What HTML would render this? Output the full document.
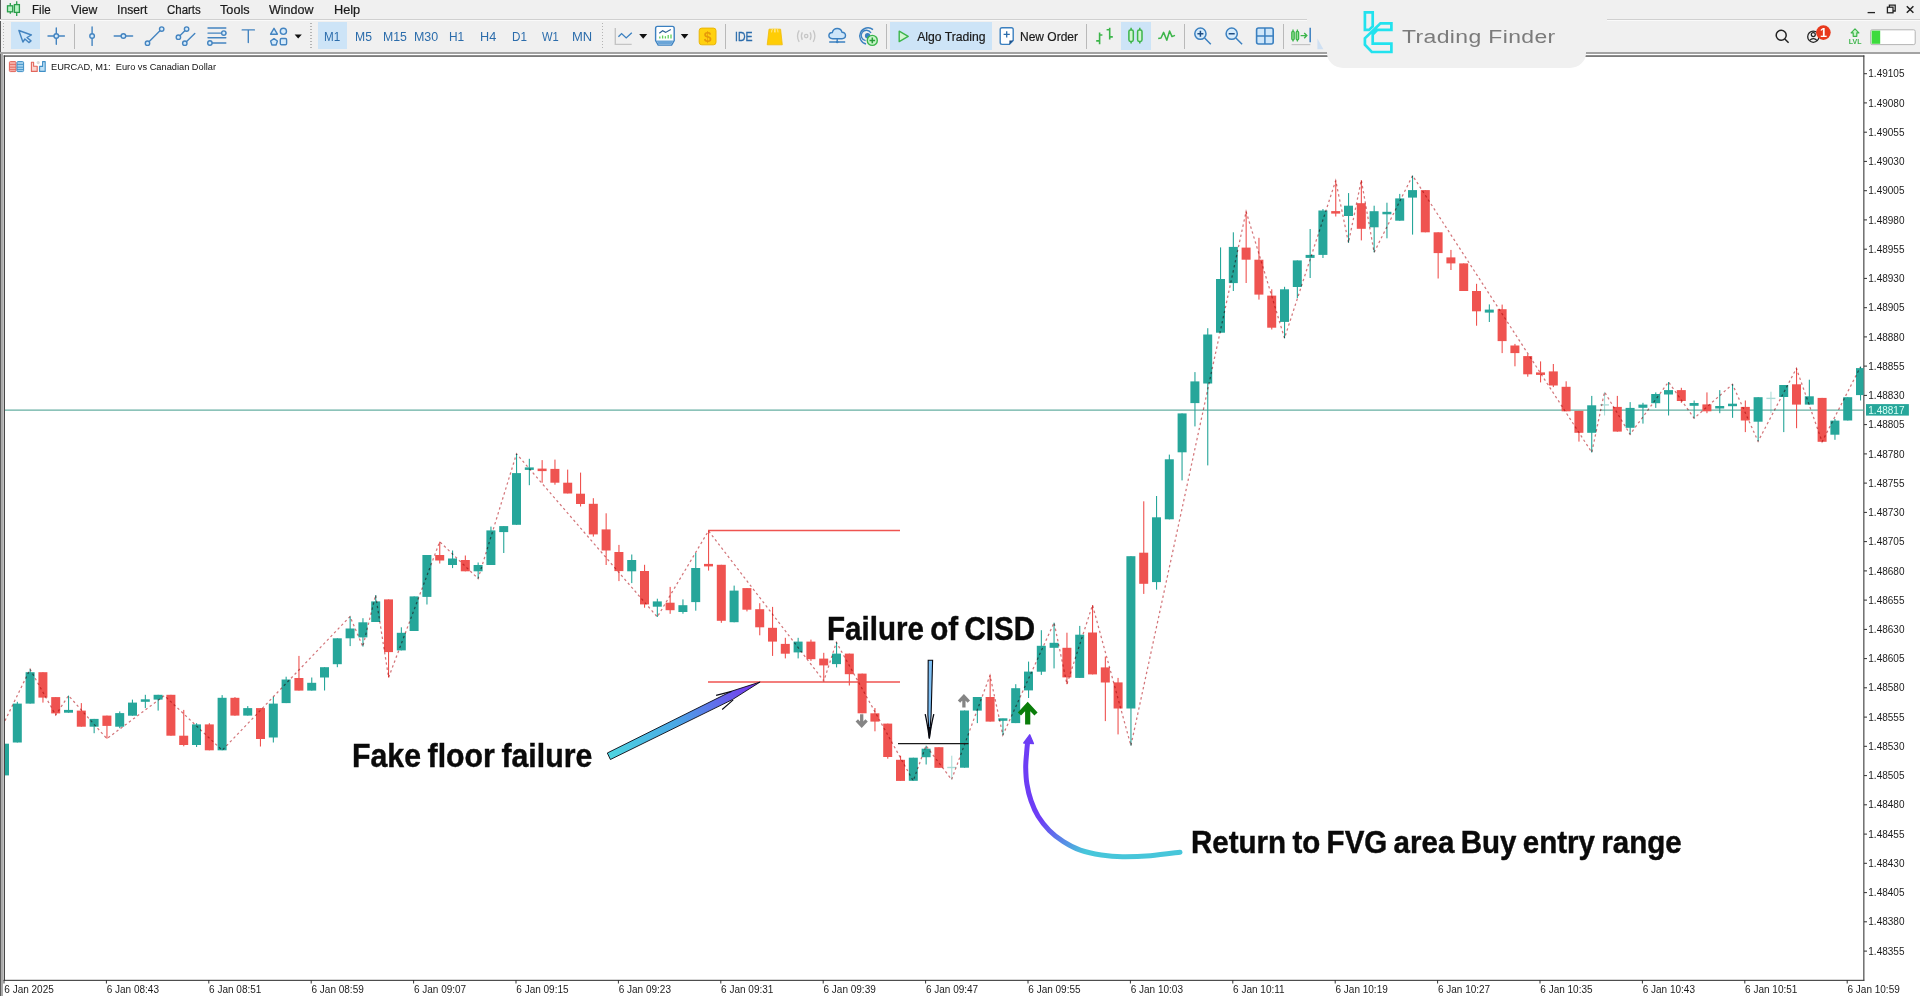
<!DOCTYPE html>
<html><head><meta charset="utf-8"><title>EURCAD M1</title>
<style>
*{box-sizing:border-box;margin:0;padding:0}
html,body{width:1920px;height:996px;overflow:hidden;background:#f0f0f0;font-family:"Liberation Sans",sans-serif;}
#root{position:relative;width:1920px;height:996px;overflow:hidden;background:#f0f0f0}
.abs{position:absolute}
.menu{-webkit-text-stroke:0.2px #1a1a1a;position:absolute;top:2px;height:16px;line-height:16px;font-size:12.2px;color:#1a1a1a;white-space:nowrap}
.tf{position:absolute;top:29px;height:16px;line-height:16px;font-size:12px;color:#2b6cab;white-space:nowrap;text-align:center}
.sep{position:absolute;top:24px;width:1px;height:25px;background:#b9b9b9}
.grip{position:absolute;top:23px;height:27px;background-image:linear-gradient(#b4b4b4 50%,transparent 50%);background-size:2px 3px;width:1.5px}
.sel{position:absolute;background:#cde4f7}
.ax{position:absolute;font-size:10px;color:#222;white-space:nowrap;line-height:12px;letter-spacing:0}
.ann{position:absolute;font-weight:bold;color:#0a0a0a;-webkit-text-stroke:0.45px #0a0a0a;white-space:nowrap;transform-origin:0 0;line-height:1}
</style></head><body><div id="root">
<!-- chart area -->
<div class="abs" style="left:0;top:54px;width:1920px;height:942px;background:#fff"></div>
<div class="abs" style="left:0;top:0;width:1px;height:996px;background:#5a5a5a"></div>
<div class="abs" style="left:1px;top:54px;width:1.9px;height:942px;background:#ababab"></div>
<div class="abs" style="left:0;top:52.4px;width:1920px;height:1.4px;background:#a3a3a3"></div>
<div class="abs" style="left:0;top:19px;width:1920px;height:1px;background:#d0d0d0"></div>
<div class="abs" style="left:0;top:20px;width:1920px;height:1px;background:#fafafa"></div>
<!-- selected backgrounds -->
<div class="sel" style="left:10.8px;top:22.2px;width:29px;height:27.2px"></div>
<div class="sel" style="left:317.5px;top:22.2px;width:29.8px;height:27.2px"></div>
<div class="sel" style="left:889.6px;top:22.2px;width:102px;height:27.4px"></div>
<div class="sel" style="left:1121.4px;top:22.2px;width:29.6px;height:27.4px"></div>
<!-- menu -->
<div class="menu" id="m1" style="left:31.9px;transform:scaleX(0.952);transform-origin:0 50%">File</div>
<div class="menu" id="m2" style="left:71.1px;transform:scaleX(1.000);transform-origin:0 50%">View</div>
<div class="menu" id="m3" style="left:116.9px;transform:scaleX(0.997);transform-origin:0 50%">Insert</div>
<div class="menu" id="m4" style="left:166.9px;transform:scaleX(0.939);transform-origin:0 50%">Charts</div>
<div class="menu" id="m5" style="left:220.2px;transform:scaleX(1.040);transform-origin:0 50%">Tools</div>
<div class="menu" id="m6" style="left:269.4px;transform:scaleX(1.026);transform-origin:0 50%">Window</div>
<div class="menu" id="m7" style="left:334.4px;transform:scaleX(1.045);transform-origin:0 50%">Help</div>
<!-- timeframes -->
<div class="tf" id="t1" style="left:324.4px;transform:scaleX(0.972);transform-origin:0 50%">M1</div>
<div class="tf" id="t2" style="left:355.4px;transform:scaleX(1.014);transform-origin:0 50%">M5</div>
<div class="tf" id="t3" style="left:382.7px;transform:scaleX(1.024);transform-origin:0 50%">M15</div>
<div class="tf" id="t4" style="left:413.7px;transform:scaleX(1.037);transform-origin:0 50%">M30</div>
<div class="tf" id="t5" style="left:449.4px;transform:scaleX(0.991);transform-origin:0 50%">H1</div>
<div class="tf" id="t6" style="left:480.4px;transform:scaleX(1.056);transform-origin:0 50%">H4</div>
<div class="tf" id="t7" style="left:511.7px;transform:scaleX(0.971);transform-origin:0 50%">D1</div>
<div class="tf" id="t8" style="left:542.1px;transform:scaleX(0.933);transform-origin:0 50%">W1</div>
<div class="tf" id="t9" style="left:572.1px;transform:scaleX(1.082);transform-origin:0 50%">MN</div>
<div class="tf" id="ide" style="left:734.6px;font-size:12.5px;-webkit-text-stroke:0.35px #2b6cab;transform:scaleX(0.84);transform-origin:0 50%">IDE</div>
<div class="menu" id="algo" style="left:917.2px;top:28.6px">Algo Trading</div>
<div class="menu" id="nord" style="left:1020.4px;top:28.6px;transform:scaleX(0.985);transform-origin:0 50%">New Order</div>
<!-- separators & grips -->
<div class="sep" style="left:73.7px"></div>
<div class="sep" style="left:724.9px"></div>
<div class="sep" style="left:885.7px"></div>
<div class="sep" style="left:1085.8px"></div>
<div class="sep" style="left:1184.2px"></div>
<div class="sep" style="left:1282.5px"></div>
<div class="grip" style="left:2.6px"></div>
<div class="grip" style="left:310px"></div>
<div class="grip" style="left:601.6px"></div>
<svg class="abs" style="left:0;top:0" width="1920" height="56" viewBox="0 0 1920 56">
<!-- app icon -->
<g stroke="#2a9d4a" stroke-width="1.3" fill="#b9f3c6"><path d="M10.3,3.1V13.8M16.7,1.2V16" fill="none"/><rect x="7.5" y="5.8" width="5.2" height="6"/><rect x="14.4" y="4.6" width="5" height="7.8"/></g>
<!-- drawing tools -->
<g stroke="#4484c0" stroke-width="1.4" fill="#d6ebfb" stroke-linejoin="round" stroke-linecap="round">
<path d="M18.9,30.5 L31.4,35 L27,37.5 L31,40.9 L28.9,42.6 L24.9,39 L22.9,42 Z" fill="#cfe6f9"/>
<path d="M48,36H64.4M56.3,28V44.2" fill="none"/><circle cx="56.3" cy="36" r="2.3"/>
<path d="M92.1,27V45.4" fill="none"/><circle cx="92.1" cy="36" r="2.3"/>
<path d="M114.2,36H132.6" fill="none"/><circle cx="123.4" cy="36" r="2.3"/>
<path d="M147.5,43.2L161.7,29.1" fill="none"/><circle cx="147.5" cy="43.2" r="2.2"/><circle cx="161.7" cy="29.1" r="2.2"/>
<path d="M178.4,37.2L186.6,29.1M184.8,43.2L194.8,33.4" fill="none"/><circle cx="178.4" cy="37.2" r="2.2"/><circle cx="186.6" cy="29.1" r="2.2"/><circle cx="184.8" cy="43.2" r="2.2"/>
<path d="M208,28H225.8M208,33.1H225.8M208,37.8H225.8M208,43H225.8" fill="none"/><circle cx="223.8" cy="33.1" r="2.2"/><circle cx="209.9" cy="43" r="2.2"/>
<path d="M242.2,29.9H254.4M248.3,29.9V42.5" fill="none"/>
<path d="M274,28.3L277.4,34.2H270.6Z"/><circle cx="283.4" cy="31.3" r="3.1"/><path d="M274,38.6L277.4,41L276.1,45H271.9L270.6,41Z"/><rect x="280.3" y="38.5" width="6.3" height="6.3" rx="1.2"/>
</g>
<path d="M294.6,34.4H301.8L298.2,38.4Z M639.2,34.1H647.2L643.2,38.7Z M680.8,34.1H688.4L684.6,38.7Z" fill="#111"/>
<!-- chart type -->
<path d="M615.3,28V44.4H631.7" fill="none" stroke="#c4c4c4" stroke-width="1.4"/>
<path d="M618.4,36.8L621.6,33.6L626.2,37.9L631.8,32.8" fill="none" stroke="#3b80c0" stroke-width="1.4"/>
<!-- template icon -->
<path d="M657.5,26.4H672.3Q674.2,26.4 674.2,28.4V40.6L671.6,45.1H658.2L655.6,40.6V28.4Q655.6,26.4 657.5,26.4Z" fill="#fff" stroke="#3b80c0" stroke-width="1.4"/>
<path d="M656.3,40.4H673.5L671.2,44.6H658.6Z" fill="#6aa5d8"/>
<path d="M659.3,33.2L662.6,30.8L665.6,32.4L670.8,29.4" fill="none" stroke="#2b5f94" stroke-width="1.2"/>
<path d="M659.8,36.6V38.4M662.6,35.6V38.4M665.4,36.2V38.4M668.2,35V38.4M671,34.6V38.4" stroke="#5fcf5a" stroke-width="1.3"/>
<!-- dollar -->
<rect x="699.2" y="28.1" width="16.8" height="16.7" rx="2.6" fill="#ffd10f" stroke="#eab508" stroke-width="1"/>
<text x="707.6" y="41.6" font-family="Liberation Sans, sans-serif" font-size="14" font-weight="bold" fill="#e6990a" text-anchor="middle">$</text>
<!-- bag -->
<path d="M769,29.2H780.6L782.3,44.8H767.2Z" fill="#ffcd05" stroke="#f0bb0a" stroke-width="0.8" stroke-linejoin="round"/>
<path d="M771.6,32.4Q771.4,28.6 773.6,28.4Q775.4,28.6 775.3,32.4M774.4,32.4Q774.3,28.6 776.2,28.4Q778.2,28.6 778,32.4" fill="none" stroke="#ffe88a" stroke-width="1"/>
<!-- signal -->
<g fill="none" stroke="#c6c6c6" stroke-width="1.3"><circle cx="806.2" cy="36.1" r="1.7"/><path d="M802.3,32.3Q800.4,36.1 802.3,39.9M810.1,32.3Q812,36.1 810.1,39.9M799.2,30.4Q795.8,36.1 799.2,41.8M813.2,30.4Q816.6,36.1 813.2,41.8"/></g>
<!-- cloud -->
<path d="M832.6,38.7Q828.9,38.7 828.9,35.6Q828.9,32.6 832.3,32.5Q833.3,28.5 837.2,28.5Q841,28.5 842,32.2Q845.5,32.4 845.5,35.6Q845.5,38.7 842,38.7Z" fill="#cfe6f9" stroke="#3b80c0" stroke-width="1.4"/>
<path d="M837.2,38.8V42M829.2,42H845.2" stroke="#3b80c0" stroke-width="1.4" fill="none"/><circle cx="837.2" cy="42" r="1.3" fill="#3b80c0"/>
<!-- target -->
<g fill="none" stroke="#3b80c0" stroke-width="1.4"><path d="M873,29.6A8.2,8.2 0 1 0 866,44"/><path d="M871,33A5.2,5.2 0 1 0 865.6,40.6"/><circle cx="867.6" cy="35.8" r="2" fill="#3b80c0"/></g>
<circle cx="872.3" cy="40.4" r="5" fill="#c9f5c9" stroke="#3cb54a" stroke-width="1.4"/><path d="M869.5,40.4H875.1M872.3,37.6V43.2" stroke="#2a9d3a" stroke-width="1.5"/>
<!-- play -->
<path d="M899.2,31.2L908.2,36.4L899.2,41.6Z" fill="#d2f5d2" stroke="#3cb54a" stroke-width="1.4" stroke-linejoin="round"/>
<!-- new order -->
<path d="M1002,27.8H1011.4Q1013.2,27.8 1013.2,29.6V40.4L1009.4,44.4H1002Q1000.2,44.4 1000.2,42.6V29.6Q1000.2,27.8 1002,27.8Z" fill="#fff" stroke="#3b80c0" stroke-width="1.4"/>
<path d="M1013.2,40.4H1009.4V44.4Z" fill="#1f4f86"/>
<path d="M1003.6,34.4H1009.8M1006.7,31.3V37.5" stroke="#2b6cab" stroke-width="1.3"/>
<!-- bars -->
<g stroke="#3cb54a" stroke-width="1.6" fill="none"><path d="M1099.6,32.4V44.2M1096.2,40.9H1099.6M1099.6,35H1102.4M1109.7,27.8V39.6M1106.6,29.8H1109.7M1109.7,36.9H1112.8"/></g>
<!-- candles icon -->
<g stroke="#3cb54a" stroke-width="1.5" fill="#d2f5d2"><path d="M1131.1,27.8V43.4M1139.8,27.8V43.4" fill="none"/><rect x="1128.9" y="30" width="4.4" height="11.4" rx="1.6"/><rect x="1137.6" y="30" width="4.4" height="11.4" rx="1.6"/></g>
<!-- wave -->
<path d="M1158.2,38.6L1161,38L1163.6,32.4L1166.8,40.2L1169.6,31L1172,36.6L1175,35.4" fill="none" stroke="#3cb54a" stroke-width="1.5" stroke-linejoin="round"/>
<!-- zoom -->
<g stroke="#3b80c0" stroke-width="1.5" fill="#d6ebfb"><path d="M1204.6,38L1210.8,44.2M1235.9,38L1242.1,44.2" fill="none"/><circle cx="1200.4" cy="33.7" r="5.6"/><circle cx="1231.7" cy="33.7" r="5.6"/></g>
<path d="M1197.4,33.7H1203.4M1200.4,30.7V36.7M1228.7,33.7H1234.7" stroke="#1f4f86" stroke-width="1.5"/>
<!-- grid -->
<rect x="1256.6" y="28" width="16.6" height="16" rx="2" fill="#cfe6f9" stroke="#3b80c0" stroke-width="1.6"/><path d="M1264.9,28V44M1256.6,36H1273.2" stroke="#3b80c0" stroke-width="1.5"/>
<!-- shift -->
<g stroke="#3cb54a" stroke-width="1.3" fill="#9be29b"><path d="M1293,29.6V41.4M1297.4,29.6V41.4" fill="none"/><rect x="1291.8" y="31.4" width="2.4" height="8.4" rx="1"/><rect x="1296.2" y="31.4" width="2.4" height="8.4" rx="1"/></g>
<path d="M1300.6,35.6H1306.6M1304.2,33L1306.8,35.6L1304.2,38.2" fill="none" stroke="#3cb54a" stroke-width="1.4"/>
<path d="M1310.2,27.8V42.2" stroke="#3b80c0" stroke-width="1.5"/><path d="M1291.6,44.6H1310.4" stroke="#c4c4c4" stroke-width="1.2"/>
<path d="M1317.4,38.4L1323.4,49.2H1317.4Z" fill="#cfe0f2"/>
<!-- overlay -->
<rect x="1307" y="17" width="300" height="5" fill="#f0f0f0"/>
<!-- right side icons -->
<g fill="none" stroke="#222" stroke-width="1.5"><circle cx="1781.2" cy="35.3" r="5"/><path d="M1784.8,39L1788.6,42.8"/><circle cx="1813.3" cy="36.7" r="5.6" stroke-width="1.3"/><circle cx="1813.3" cy="34.6" r="2" stroke-width="1.2"/><path d="M1809.4,40.6Q1813.3,36.6 1817.2,40.6" stroke-width="1.2"/></g>
<circle cx="1823.4" cy="32.6" r="7.3" fill="#e8391d"/>
<text x="1823.4" y="37.2" font-family="Liberation Sans, sans-serif" font-size="12.5" font-weight="bold" fill="#fff" text-anchor="middle">1</text>
<path d="M1855,28.9L1858.9,32.8H1856.8V36.3H1853.2V32.8H1851.1Z" fill="#c9f5c9" stroke="#3cb54a" stroke-width="1.2" stroke-linejoin="round"/>
<text x="1855.2" y="44" font-family="Liberation Sans, sans-serif" font-size="7" font-weight="bold" fill="#3cb54a" text-anchor="middle">LVL</text>
<rect x="1870.6" y="29.8" width="44.6" height="14.8" rx="1.5" fill="#fff" stroke="#b4b4b4" stroke-width="1"/><rect x="1871.6" y="30.6" width="8.6" height="13.2" fill="#3ddb3d"/>
<!-- window controls -->
<g stroke="#222" stroke-width="1.3" fill="none"><path d="M1867.6,12.6H1875"/><rect x="1887.4" y="7.2" width="5.6" height="5.6"/><path d="M1889.4,7.2V5.2H1895.2V11H1893"/><path d="M1906.8,6.2L1913.4,12.8M1913.4,6.2L1906.8,12.8" stroke-width="1.5"/></g>
</svg>

<svg class="abs" style="left:0;top:0" width="1920" height="996" viewBox="0 0 1920 996">
<defs>
<linearGradient id="ga" gradientUnits="userSpaceOnUse" x1="607" y1="756" x2="760" y2="682"><stop offset="0" stop-color="#4fd6e0"/><stop offset="0.45" stop-color="#4aa8e6"/><stop offset="1" stop-color="#7a2ff0"/></linearGradient>
<linearGradient id="gb" gradientUnits="userSpaceOnUse" x1="1042" y1="818" x2="1084" y2="853"><stop offset="0" stop-color="#6d3df5"/><stop offset="0.5" stop-color="#5a80e8"/><stop offset="1" stop-color="#47c6da"/></linearGradient>
</defs>
<!-- frame -->
<rect x="3.7" y="55.4" width="1.2" height="925" fill="#333"/>
<rect x="3.7" y="55.4" width="1860.6" height="1.3" fill="#444"/>
<rect x="1863.3" y="55.4" width="1.1" height="925.4" fill="#3a3a3a"/>
<rect x="3.7" y="979.8" width="1860.6" height="1.1" fill="#3a3a3a"/>
<line x1="5" y1="410.1" x2="1864" y2="410.1" stroke="#3f9a8a" stroke-width="1"/>
<line x1="708" y1="530.5" x2="900" y2="530.5" stroke="#ef5350" stroke-width="1.3"/>
<line x1="708" y1="682" x2="900" y2="682" stroke="#ef5350" stroke-width="1.3"/>
<rect x="5" y="743.7" width="4" height="31.7" fill="#26a69a"/>
<g fill="#26a69a"><rect x="16.8" y="701.8" width="1.1" height="40.7"/><rect x="12.8" y="703.6" width="9" height="38.9"/></g>
<g fill="#26a69a"><rect x="29.6" y="669.2" width="1.1" height="34.4"/><rect x="25.6" y="672.2" width="9" height="31.4"/></g>
<g fill="#ef5350"><rect x="42.4" y="672.2" width="1.1" height="30.4"/><rect x="38.4" y="672.2" width="9" height="25.4"/></g>
<g fill="#ef5350"><rect x="55.2" y="697.1" width="1.1" height="18.1"/><rect x="51.2" y="697.1" width="9" height="16.3"/></g>
<g fill="#26a69a"><rect x="68" y="695.6" width="1.1" height="17.1"/><rect x="64" y="709.9" width="9" height="2.8"/></g>
<g fill="#ef5350"><rect x="80.8" y="703.1" width="1.1" height="23.6"/><rect x="76.8" y="710.6" width="9" height="16.1"/></g>
<g fill="#26a69a"><rect x="93.6" y="718.9" width="1.1" height="14.3"/><rect x="89.6" y="718.9" width="9" height="7.8"/></g>
<g fill="#ef5350"><rect x="106.4" y="715.6" width="1.1" height="23.1"/><rect x="102.4" y="715.6" width="9" height="10.3"/></g>
<g fill="#26a69a"><rect x="119.2" y="711.4" width="1.1" height="16.8"/><rect x="115.2" y="713.1" width="9" height="13.6"/></g>
<g fill="#26a69a"><rect x="131.9" y="699.6" width="1.1" height="16.1"/><rect x="128" y="702.6" width="9" height="13.1"/></g>
<g fill="#26a69a"><rect x="144.8" y="694.8" width="1.1" height="13.3"/><rect x="140.8" y="699.3" width="9" height="2.5"/></g>
<g fill="#26a69a"><rect x="157.6" y="694.8" width="1.1" height="15.8"/><rect x="153.6" y="694.8" width="9" height="4.8"/></g>
<g fill="#ef5350"><rect x="170.4" y="694.8" width="1.1" height="40.9"/><rect x="166.4" y="694.8" width="9" height="40.9"/></g>
<g fill="#ef5350"><rect x="183.2" y="709.9" width="1.1" height="36.4"/><rect x="179.2" y="735.7" width="9" height="9.3"/></g>
<g fill="#26a69a"><rect x="196" y="723.2" width="1.1" height="23.8"/><rect x="192" y="724.4" width="9" height="20.6"/></g>
<g fill="#ef5350"><rect x="208.8" y="723.2" width="1.1" height="27.1"/><rect x="204.8" y="724.4" width="9" height="25.9"/></g>
<g fill="#26a69a"><rect x="221.6" y="695.1" width="1.1" height="55.2"/><rect x="217.6" y="697.8" width="9" height="52.5"/></g>
<g fill="#ef5350"><rect x="234.4" y="697.1" width="1.1" height="18.6"/><rect x="230.4" y="697.8" width="9" height="17.8"/></g>
<g fill="#26a69a"><rect x="247.2" y="706.1" width="1.1" height="9.5"/><rect x="243.2" y="708.1" width="9" height="7.5"/></g>
<g fill="#ef5350"><rect x="259.9" y="708.1" width="1.1" height="38.4"/><rect x="256" y="708.1" width="9" height="30.9"/></g>
<g fill="#26a69a"><rect x="272.8" y="696.8" width="1.1" height="45.7"/><rect x="268.8" y="703.6" width="9" height="33.9"/></g>
<g fill="#26a69a"><rect x="285.6" y="676.7" width="1.1" height="26.4"/><rect x="281.6" y="679.5" width="9" height="23.6"/></g>
<g fill="#ef5350"><rect x="298.4" y="655.9" width="1.1" height="34.6"/><rect x="294.4" y="678" width="9" height="12.6"/></g>
<g fill="#26a69a"><rect x="311.2" y="677.5" width="1.1" height="13.1"/><rect x="307.2" y="682.8" width="9" height="7.8"/></g>
<g fill="#26a69a"><rect x="324" y="667.2" width="1.1" height="23.3"/><rect x="320" y="667.2" width="9" height="10.3"/></g>
<g fill="#26a69a"><rect x="336.8" y="638.3" width="1.1" height="28.9"/><rect x="332.8" y="638.3" width="9" height="25.9"/></g>
<g fill="#26a69a"><rect x="349.6" y="616.5" width="1.1" height="29.6"/><rect x="345.6" y="628.5" width="9" height="9.8"/></g>
<g fill="#26a69a"><rect x="362.4" y="618.2" width="1.1" height="28.4"/><rect x="358.4" y="622.3" width="9" height="15.1"/></g>
<g fill="#26a69a"><rect x="375.2" y="595.1" width="1.1" height="26.9"/><rect x="371.2" y="601.4" width="9" height="20.6"/></g>
<g fill="#ef5350"><rect x="388" y="599.4" width="1.1" height="78.1"/><rect x="384" y="599.4" width="9" height="52.7"/></g>
<g fill="#26a69a"><rect x="400.8" y="627.3" width="1.1" height="23.1"/><rect x="396.8" y="632.8" width="9" height="17.6"/></g>
<g fill="#26a69a"><rect x="413.6" y="596.4" width="1.1" height="34.6"/><rect x="409.6" y="596.4" width="9" height="34.6"/></g>
<g fill="#26a69a"><rect x="426.4" y="555" width="1.1" height="49.5"/><rect x="422.4" y="555" width="9" height="41.9"/></g>
<g fill="#ef5350"><rect x="439.2" y="541.7" width="1.1" height="21.8"/><rect x="435.2" y="555" width="9" height="5.5"/></g>
<g fill="#26a69a"><rect x="452" y="550.5" width="1.1" height="17.6"/><rect x="448" y="558.5" width="9" height="6.5"/></g>
<g fill="#ef5350"><rect x="464.8" y="555.5" width="1.1" height="15.8"/><rect x="460.8" y="560" width="9" height="11.3"/></g>
<g fill="#26a69a"><rect x="477.6" y="562.5" width="1.1" height="16.1"/><rect x="473.6" y="565" width="9" height="6.3"/></g>
<g fill="#26a69a"><rect x="490.4" y="526.6" width="1.1" height="38.4"/><rect x="486.4" y="530.4" width="9" height="34.6"/></g>
<g fill="#26a69a"><rect x="503.2" y="526.1" width="1.1" height="26.9"/><rect x="499.2" y="526.1" width="9" height="6"/></g>
<g fill="#26a69a"><rect x="516" y="453.8" width="1.1" height="71"/><rect x="512" y="473.1" width="9" height="51.7"/></g>
<g fill="#26a69a"><rect x="528.8" y="458.8" width="1.1" height="26.4"/><rect x="524.8" y="467.4" width="9" height="2.5"/></g>
<g fill="#ef5350"><rect x="541.6" y="460.1" width="1.1" height="22.6"/><rect x="537.6" y="468.6" width="9" height="2.5"/></g>
<g fill="#ef5350"><rect x="554.4" y="459.6" width="1.1" height="25.1"/><rect x="550.4" y="468.9" width="9" height="13.8"/></g>
<g fill="#ef5350"><rect x="567.1" y="469.6" width="1.1" height="23.8"/><rect x="563.2" y="482.7" width="9" height="10.8"/></g>
<g fill="#ef5350"><rect x="580" y="472.6" width="1.1" height="33.9"/><rect x="576" y="493.7" width="9" height="10.3"/></g>
<g fill="#ef5350"><rect x="592.8" y="498.2" width="1.1" height="38.4"/><rect x="588.8" y="503.8" width="9" height="30.6"/></g>
<g fill="#ef5350"><rect x="605.6" y="513.3" width="1.1" height="51.7"/><rect x="601.6" y="529.4" width="9" height="21.1"/></g>
<g fill="#ef5350"><rect x="618.4" y="544.9" width="1.1" height="36.2"/><rect x="614.4" y="552" width="9" height="19.1"/></g>
<g fill="#26a69a"><rect x="631.2" y="554.5" width="1.1" height="28.6"/><rect x="627.2" y="560" width="9" height="11.3"/></g>
<g fill="#ef5350"><rect x="644" y="564.8" width="1.1" height="42.9"/><rect x="640" y="571" width="9" height="33.4"/></g>
<g fill="#26a69a"><rect x="656.8" y="598.7" width="1.1" height="18.3"/><rect x="652.8" y="601.4" width="9" height="5.3"/></g>
<g fill="#ef5350"><rect x="669.6" y="586.9" width="1.1" height="26.9"/><rect x="665.6" y="602.7" width="9" height="7.5"/></g>
<g fill="#26a69a"><rect x="682.4" y="599.4" width="1.1" height="14.3"/><rect x="678.4" y="605.2" width="9" height="6.8"/></g>
<g fill="#26a69a"><rect x="695.2" y="553" width="1.1" height="57.7"/><rect x="691.2" y="568" width="9" height="34.1"/></g>
<g fill="#ef5350"><rect x="708" y="530.9" width="1.1" height="39.7"/><rect x="704" y="563.9" width="9" height="2.5"/></g>
<g fill="#ef5350"><rect x="720.8" y="564.8" width="1.1" height="58"/><rect x="716.8" y="564.8" width="9" height="56"/></g>
<g fill="#26a69a"><rect x="733.6" y="585.6" width="1.1" height="36.7"/><rect x="729.6" y="590.6" width="9" height="31.6"/></g>
<g fill="#ef5350"><rect x="746.4" y="588.1" width="1.1" height="23.3"/><rect x="742.4" y="588.1" width="9" height="21.6"/></g>
<g fill="#ef5350"><rect x="759.2" y="603.2" width="1.1" height="32.1"/><rect x="755.2" y="609.2" width="9" height="18.1"/></g>
<g fill="#ef5350"><rect x="772" y="606.9" width="1.1" height="49"/><rect x="768" y="627.8" width="9" height="13.8"/></g>
<g fill="#ef5350"><rect x="784.8" y="637.8" width="1.1" height="20.6"/><rect x="780.8" y="643.9" width="9" height="9.8"/></g>
<g fill="#26a69a"><rect x="797.6" y="637.8" width="1.1" height="20.6"/><rect x="793.6" y="641.6" width="9" height="10.8"/></g>
<g fill="#ef5350"><rect x="810.4" y="639.6" width="1.1" height="21.3"/><rect x="806.4" y="641.6" width="9" height="17.6"/></g>
<g fill="#ef5350"><rect x="823.2" y="652.8" width="1.1" height="27.6"/><rect x="819.2" y="658.6" width="9" height="6.8"/></g>
<g fill="#26a69a"><rect x="836" y="642.3" width="1.1" height="25.1"/><rect x="832" y="653.6" width="9" height="10.5"/></g>
<g fill="#ef5350"><rect x="848.8" y="653.6" width="1.1" height="31.9"/><rect x="844.8" y="653.6" width="9" height="20.6"/></g>
<g fill="#ef5350"><rect x="861.6" y="673.6" width="1.1" height="39.7"/><rect x="857.6" y="673.6" width="9" height="39.7"/></g>
<g fill="#ef5350"><rect x="874.4" y="708" width="1.1" height="23.3"/><rect x="870.4" y="713.3" width="9" height="8.3"/></g>
<g fill="#ef5350"><rect x="887.2" y="723.6" width="1.1" height="35.1"/><rect x="883.2" y="723.6" width="9" height="33.4"/></g>
<g fill="#ef5350"><rect x="900" y="755.7" width="1.1" height="25.1"/><rect x="896" y="759.8" width="9" height="21.1"/></g>
<g fill="#26a69a"><rect x="912.8" y="757.7" width="1.1" height="23.1"/><rect x="908.8" y="757.7" width="9" height="23.1"/></g>
<g fill="#26a69a"><rect x="925.6" y="745.7" width="1.1" height="18.8"/><rect x="921.6" y="748.7" width="9" height="8.5"/></g>
<g fill="#ef5350"><rect x="938.4" y="747.2" width="1.1" height="20.6"/><rect x="934.4" y="747.2" width="9" height="20.6"/></g>
<g fill="#26a69a" opacity="0.38"><rect x="951.2" y="755.7" width="1.1" height="23.8"/><rect x="947.2" y="766.8" width="9" height="1.4"/></g>
<g fill="#26a69a"><rect x="964" y="710.5" width="1.1" height="57.2"/><rect x="960" y="710.5" width="9" height="57.2"/></g>
<g fill="#26a69a"><rect x="976.8" y="697" width="1.1" height="26.1"/><rect x="972.8" y="697" width="9" height="13.6"/></g>
<g fill="#ef5350"><rect x="989.6" y="675.4" width="1.1" height="46.2"/><rect x="985.6" y="697" width="9" height="24.6"/></g>
<g fill="#26a69a"><rect x="1002.4" y="718.6" width="1.1" height="16.6"/><rect x="998.4" y="718.3" width="9" height="2.5"/></g>
<g fill="#26a69a"><rect x="1015.2" y="684.2" width="1.1" height="38.9"/><rect x="1011.2" y="688.2" width="9" height="34.9"/></g>
<g fill="#26a69a"><rect x="1028" y="661.6" width="1.1" height="36.4"/><rect x="1024" y="671.6" width="9" height="18.8"/></g>
<g fill="#26a69a"><rect x="1040.8" y="630.2" width="1.1" height="44.7"/><rect x="1036.8" y="645.8" width="9" height="25.9"/></g>
<g fill="#26a69a"><rect x="1053.5" y="622.7" width="1.1" height="45.7"/><rect x="1049.6" y="642.8" width="9" height="5"/></g>
<g fill="#ef5350"><rect x="1066.4" y="632.7" width="1.1" height="51.5"/><rect x="1062.4" y="647.8" width="9" height="29.6"/></g>
<g fill="#26a69a"><rect x="1079.2" y="625.9" width="1.1" height="52"/><rect x="1075.2" y="634.7" width="9" height="43.2"/></g>
<g fill="#ef5350"><rect x="1092" y="605.1" width="1.1" height="69.3"/><rect x="1088" y="632.5" width="9" height="41.9"/></g>
<g fill="#ef5350"><rect x="1104.8" y="656.6" width="1.1" height="64.5"/><rect x="1100.8" y="667.4" width="9" height="15.1"/></g>
<g fill="#ef5350"><rect x="1117.5" y="677.9" width="1.1" height="56.5"/><rect x="1113.6" y="682.4" width="9" height="26.1"/></g>
<g fill="#26a69a"><rect x="1130.4" y="556.2" width="1.1" height="189.4"/><rect x="1126.4" y="556.2" width="9" height="152.3"/></g>
<g fill="#ef5350"><rect x="1143.2" y="501.3" width="1.1" height="92.6"/><rect x="1139.2" y="552.7" width="9" height="31.1"/></g>
<g fill="#26a69a"><rect x="1156" y="496" width="1.1" height="93.6"/><rect x="1152" y="517.3" width="9" height="64.8"/></g>
<g fill="#26a69a"><rect x="1168.8" y="454.6" width="1.1" height="64.8"/><rect x="1164.8" y="459.3" width="9" height="60"/></g>
<g fill="#26a69a"><rect x="1181.5" y="413.4" width="1.1" height="67"/><rect x="1177.6" y="413.4" width="9" height="38.9"/></g>
<g fill="#26a69a"><rect x="1194.4" y="372.1" width="1.1" height="54.3"/><rect x="1190.4" y="381.4" width="9" height="21.7"/></g>
<g fill="#26a69a"><rect x="1207.2" y="328.2" width="1.1" height="137.2"/><rect x="1203.2" y="334.5" width="9" height="49"/></g>
<g fill="#26a69a"><rect x="1220" y="247.4" width="1.1" height="85.4"/><rect x="1216" y="279" width="9" height="53.7"/></g>
<g fill="#26a69a"><rect x="1232.8" y="232.3" width="1.1" height="58.7"/><rect x="1228.8" y="246.9" width="9" height="36.2"/></g>
<g fill="#ef5350"><rect x="1245.6" y="211.5" width="1.1" height="71.5"/><rect x="1241.6" y="247.6" width="9" height="12.1"/></g>
<g fill="#ef5350"><rect x="1258.4" y="237.8" width="1.1" height="61.8"/><rect x="1254.4" y="259.7" width="9" height="34.9"/></g>
<g fill="#ef5350"><rect x="1271.2" y="289.3" width="1.1" height="40.2"/><rect x="1267.2" y="295.6" width="9" height="32.1"/></g>
<g fill="#26a69a"><rect x="1284" y="286.8" width="1.1" height="51.5"/><rect x="1280" y="289.3" width="9" height="32.6"/></g>
<g fill="#26a69a"><rect x="1296.8" y="260.4" width="1.1" height="37.7"/><rect x="1292.8" y="260.4" width="9" height="26.6"/></g>
<g fill="#26a69a"><rect x="1309.6" y="229" width="1.1" height="49"/><rect x="1305.6" y="254.9" width="9" height="3"/></g>
<g fill="#26a69a"><rect x="1322.4" y="209" width="1.1" height="49"/><rect x="1318.4" y="210.5" width="9" height="44.4"/></g>
<g fill="#ef5350"><rect x="1335.2" y="180.6" width="1.1" height="35.9"/><rect x="1331.2" y="211.1" width="9" height="2.5"/></g>
<g fill="#26a69a"><rect x="1348" y="193.1" width="1.1" height="49.7"/><rect x="1344" y="205.7" width="9" height="10.3"/></g>
<g fill="#ef5350"><rect x="1360.8" y="180.1" width="1.1" height="60.3"/><rect x="1356.8" y="203.2" width="9" height="25.6"/></g>
<g fill="#26a69a"><rect x="1373.6" y="205.7" width="1.1" height="46.7"/><rect x="1369.6" y="211.2" width="9" height="16.1"/></g>
<g fill="#26a69a"><rect x="1386.4" y="202.7" width="1.1" height="35.6"/><rect x="1382.4" y="211.8" width="9" height="2.5"/></g>
<g fill="#26a69a"><rect x="1399.2" y="193.9" width="1.1" height="26.9"/><rect x="1395.2" y="198.4" width="9" height="22.3"/></g>
<g fill="#26a69a"><rect x="1412" y="175.6" width="1.1" height="59"/><rect x="1408" y="190.1" width="9" height="7.5"/></g>
<g fill="#ef5350"><rect x="1424.8" y="190.1" width="1.1" height="42.2"/><rect x="1420.8" y="190.1" width="9" height="42.2"/></g>
<g fill="#ef5350"><rect x="1437.6" y="232.3" width="1.1" height="46.2"/><rect x="1433.6" y="232.3" width="9" height="20.8"/></g>
<g fill="#ef5350"><rect x="1450.4" y="249.9" width="1.1" height="20.1"/><rect x="1446.4" y="257.4" width="9" height="6"/></g>
<g fill="#ef5350"><rect x="1463.2" y="263.4" width="1.1" height="27.6"/><rect x="1459.2" y="263.4" width="9" height="27.6"/></g>
<g fill="#ef5350"><rect x="1476" y="283.8" width="1.1" height="41.9"/><rect x="1472" y="291" width="9" height="20.3"/></g>
<g fill="#26a69a"><rect x="1488.8" y="304.4" width="1.1" height="17.6"/><rect x="1484.8" y="309.6" width="9" height="3"/></g>
<g fill="#ef5350"><rect x="1501.6" y="304.6" width="1.1" height="48.5"/><rect x="1497.6" y="309.2" width="9" height="31.9"/></g>
<g fill="#ef5350"><rect x="1514.4" y="343.9" width="1.1" height="22.4"/><rect x="1510.4" y="345.5" width="9" height="7.6"/></g>
<g fill="#ef5350"><rect x="1527.2" y="354.3" width="1.1" height="22.4"/><rect x="1523.2" y="356.1" width="9" height="18.2"/></g>
<g fill="#ef5350"><rect x="1540" y="361.4" width="1.1" height="21"/><rect x="1536" y="372.4" width="9" height="2.5"/></g>
<g fill="#ef5350"><rect x="1552.8" y="364" width="1.1" height="23.1"/><rect x="1548.8" y="371.4" width="9" height="14.1"/></g>
<g fill="#ef5350"><rect x="1565.6" y="381.3" width="1.1" height="30"/><rect x="1561.6" y="386.8" width="9" height="24.5"/></g>
<g fill="#ef5350"><rect x="1578.4" y="410.9" width="1.1" height="30.7"/><rect x="1574.4" y="410.9" width="9" height="21.9"/></g>
<g fill="#26a69a"><rect x="1591.2" y="395.9" width="1.1" height="56.6"/><rect x="1587.2" y="405.3" width="9" height="27.5"/></g>
<g fill="#26a69a" opacity="0.38"><rect x="1604" y="391.9" width="1.1" height="23.6"/><rect x="1600" y="404.2" width="9" height="1.4"/></g>
<g fill="#ef5350"><rect x="1616.8" y="395.9" width="1.1" height="35.8"/><rect x="1612.8" y="406.9" width="9" height="24.7"/></g>
<g fill="#26a69a"><rect x="1629.6" y="402.1" width="1.1" height="32.3"/><rect x="1625.6" y="407.9" width="9" height="19.9"/></g>
<g fill="#26a69a"><rect x="1642.4" y="402.8" width="1.1" height="20.8"/><rect x="1638.4" y="404.6" width="9" height="3.2"/></g>
<g fill="#26a69a"><rect x="1655.2" y="392.4" width="1.1" height="15.5"/><rect x="1651.2" y="394" width="9" height="9.2"/></g>
<g fill="#26a69a"><rect x="1668" y="382" width="1.1" height="33.5"/><rect x="1664" y="390.1" width="9" height="4.4"/></g>
<g fill="#ef5350"><rect x="1680.8" y="387.8" width="1.1" height="15"/><rect x="1676.8" y="390.1" width="9" height="10.9"/></g>
<g fill="#26a69a"><rect x="1693.6" y="400.5" width="1.1" height="17.8"/><rect x="1689.6" y="403" width="9" height="2.8"/></g>
<g fill="#ef5350"><rect x="1706.4" y="392.4" width="1.1" height="20.8"/><rect x="1702.4" y="404.4" width="9" height="6.9"/></g>
<g fill="#26a69a"><rect x="1719.2" y="390.1" width="1.1" height="23.1"/><rect x="1715.2" y="406" width="9" height="2.5"/></g>
<g fill="#26a69a"><rect x="1732" y="384.3" width="1.1" height="33.5"/><rect x="1728" y="403.7" width="9" height="2.5"/></g>
<g fill="#ef5350"><rect x="1744.8" y="400.5" width="1.1" height="31.6"/><rect x="1740.8" y="406.9" width="9" height="13.6"/></g>
<g fill="#26a69a"><rect x="1757.6" y="397.2" width="1.1" height="44.1"/><rect x="1753.6" y="397.2" width="9" height="24.5"/></g>
<g fill="#26a69a" opacity="0.38"><rect x="1770.4" y="391.7" width="1.1" height="21.5"/><rect x="1766.4" y="397.7" width="9" height="1.4"/></g>
<g fill="#26a69a"><rect x="1783.2" y="385" width="1.1" height="47.1"/><rect x="1779.2" y="385" width="9" height="12"/></g>
<g fill="#ef5350"><rect x="1796" y="368.4" width="1.1" height="59.8"/><rect x="1792" y="384.3" width="9" height="20.3"/></g>
<g fill="#26a69a"><rect x="1808.8" y="379.7" width="1.1" height="24.9"/><rect x="1804.8" y="396.3" width="9" height="8.3"/></g>
<g fill="#ef5350"><rect x="1821.6" y="397.9" width="1.1" height="43.9"/><rect x="1817.6" y="397.9" width="9" height="43.9"/></g>
<g fill="#26a69a"><rect x="1834.4" y="419" width="1.1" height="20.8"/><rect x="1830.4" y="420.6" width="9" height="14.1"/></g>
<g fill="#26a69a"><rect x="1847.2" y="397.2" width="1.1" height="23.3"/><rect x="1843.2" y="397.2" width="9" height="23.3"/></g>
<g fill="#26a69a"><rect x="1860" y="366.5" width="1.1" height="34"/><rect x="1856" y="368.1" width="7.5" height="27"/></g>
<polyline points="5,720.7 30.1,669.2 55.7,715.1 68.5,695.6 106.9,738.7 164.4,695.6 222.2,750.3 350,616.5 362.8,646.6 375.6,595.1 388.6,677.5 439.7,541.7 478.1,578.6 516.5,453.8 657.3,617 708.5,530.9 823.8,681 836.4,642.3 913.2,780.8 926,745.7 951.6,779.6 990,675.4 1002.8,735.1 1054.1,622.7 1066.9,684.2 1092.5,605.1 1130.9,745.7 1246.1,211.5 1284.5,338.2 1335.7,180.6 1348.5,242.8 1361.3,180.1 1374.1,252.4 1412.6,175.6 1591.8,452.4 1604.5,391.9 1630.1,434.4 1668.5,382 1694.1,418.3 1732.5,384.3 1758.1,441.4 1796.4,368.4 1822.1,441.8 1860.4,367" fill="none" stroke="#c4474d" stroke-width="1.25" stroke-dasharray="2.4,2.8" opacity="0.75" style="mix-blend-mode:multiply"/>
<g font-family="Liberation Sans, sans-serif" font-size="10" fill="#1c1c1c">
<rect x="1864" y="73.2" width="3" height="1" fill="#333"/><text x="1868.3" y="77.3">1.49105</text>
<rect x="1864" y="102.4" width="3" height="1" fill="#333"/><text x="1868.3" y="106.5">1.49080</text>
<rect x="1864" y="131.7" width="3" height="1" fill="#333"/><text x="1868.3" y="135.8">1.49055</text>
<rect x="1864" y="160.9" width="3" height="1" fill="#333"/><text x="1868.3" y="165.0">1.49030</text>
<rect x="1864" y="190.2" width="3" height="1" fill="#333"/><text x="1868.3" y="194.3">1.49005</text>
<rect x="1864" y="219.4" width="3" height="1" fill="#333"/><text x="1868.3" y="223.5">1.48980</text>
<rect x="1864" y="248.7" width="3" height="1" fill="#333"/><text x="1868.3" y="252.8">1.48955</text>
<rect x="1864" y="277.9" width="3" height="1" fill="#333"/><text x="1868.3" y="282.0">1.48930</text>
<rect x="1864" y="307.2" width="3" height="1" fill="#333"/><text x="1868.3" y="311.3">1.48905</text>
<rect x="1864" y="336.4" width="3" height="1" fill="#333"/><text x="1868.3" y="340.5">1.48880</text>
<rect x="1864" y="365.6" width="3" height="1" fill="#333"/><text x="1868.3" y="369.8">1.48855</text>
<rect x="1864" y="394.9" width="3" height="1" fill="#333"/><text x="1868.3" y="399.0">1.48830</text>
<rect x="1864" y="424.1" width="3" height="1" fill="#333"/><text x="1868.3" y="428.2">1.48805</text>
<rect x="1864" y="453.4" width="3" height="1" fill="#333"/><text x="1868.3" y="457.5">1.48780</text>
<rect x="1864" y="482.6" width="3" height="1" fill="#333"/><text x="1868.3" y="486.7">1.48755</text>
<rect x="1864" y="511.9" width="3" height="1" fill="#333"/><text x="1868.3" y="516.0">1.48730</text>
<rect x="1864" y="541.1" width="3" height="1" fill="#333"/><text x="1868.3" y="545.2">1.48705</text>
<rect x="1864" y="570.4" width="3" height="1" fill="#333"/><text x="1868.3" y="574.5">1.48680</text>
<rect x="1864" y="599.6" width="3" height="1" fill="#333"/><text x="1868.3" y="603.7">1.48655</text>
<rect x="1864" y="628.9" width="3" height="1" fill="#333"/><text x="1868.3" y="633.0">1.48630</text>
<rect x="1864" y="658.1" width="3" height="1" fill="#333"/><text x="1868.3" y="662.2">1.48605</text>
<rect x="1864" y="687.3" width="3" height="1" fill="#333"/><text x="1868.3" y="691.4">1.48580</text>
<rect x="1864" y="716.6" width="3" height="1" fill="#333"/><text x="1868.3" y="720.7">1.48555</text>
<rect x="1864" y="745.8" width="3" height="1" fill="#333"/><text x="1868.3" y="749.9">1.48530</text>
<rect x="1864" y="775.1" width="3" height="1" fill="#333"/><text x="1868.3" y="779.2">1.48505</text>
<rect x="1864" y="804.3" width="3" height="1" fill="#333"/><text x="1868.3" y="808.4">1.48480</text>
<rect x="1864" y="833.6" width="3" height="1" fill="#333"/><text x="1868.3" y="837.7">1.48455</text>
<rect x="1864" y="862.8" width="3" height="1" fill="#333"/><text x="1868.3" y="866.9">1.48430</text>
<rect x="1864" y="892.1" width="3" height="1" fill="#333"/><text x="1868.3" y="896.2">1.48405</text>
<rect x="1864" y="921.3" width="3" height="1" fill="#333"/><text x="1868.3" y="925.4">1.48380</text>
<rect x="1864" y="950.6" width="3" height="1" fill="#333"/><text x="1868.3" y="954.7">1.48355</text>
<rect x="3.5" y="980" width="1" height="3.5" fill="#333"/><text x="4.3" y="992.6">6 Jan 2025</text>
<rect x="105.9" y="980" width="1" height="3.5" fill="#333"/><text x="106.7" y="992.6">6 Jan 08:43</text>
<rect x="208.3" y="980" width="1" height="3.5" fill="#333"/><text x="209.1" y="992.6">6 Jan 08:51</text>
<rect x="310.7" y="980" width="1" height="3.5" fill="#333"/><text x="311.5" y="992.6">6 Jan 08:59</text>
<rect x="413.1" y="980" width="1" height="3.5" fill="#333"/><text x="413.9" y="992.6">6 Jan 09:07</text>
<rect x="515.5" y="980" width="1" height="3.5" fill="#333"/><text x="516.3" y="992.6">6 Jan 09:15</text>
<rect x="617.9" y="980" width="1" height="3.5" fill="#333"/><text x="618.7" y="992.6">6 Jan 09:23</text>
<rect x="720.3" y="980" width="1" height="3.5" fill="#333"/><text x="721.1" y="992.6">6 Jan 09:31</text>
<rect x="822.7" y="980" width="1" height="3.5" fill="#333"/><text x="823.5" y="992.6">6 Jan 09:39</text>
<rect x="925.1" y="980" width="1" height="3.5" fill="#333"/><text x="925.9" y="992.6">6 Jan 09:47</text>
<rect x="1027.5" y="980" width="1" height="3.5" fill="#333"/><text x="1028.3" y="992.6">6 Jan 09:55</text>
<rect x="1129.9" y="980" width="1" height="3.5" fill="#333"/><text x="1130.7" y="992.6">6 Jan 10:03</text>
<rect x="1232.3" y="980" width="1" height="3.5" fill="#333"/><text x="1233.1" y="992.6">6 Jan 10:11</text>
<rect x="1334.7" y="980" width="1" height="3.5" fill="#333"/><text x="1335.5" y="992.6">6 Jan 10:19</text>
<rect x="1437.1" y="980" width="1" height="3.5" fill="#333"/><text x="1437.9" y="992.6">6 Jan 10:27</text>
<rect x="1539.5" y="980" width="1" height="3.5" fill="#333"/><text x="1540.3" y="992.6">6 Jan 10:35</text>
<rect x="1641.9" y="980" width="1" height="3.5" fill="#333"/><text x="1642.7" y="992.6">6 Jan 10:43</text>
<rect x="1744.3" y="980" width="1" height="3.5" fill="#333"/><text x="1745.1" y="992.6">6 Jan 10:51</text>
<rect x="1846.7" y="980" width="1" height="3.5" fill="#333"/><text x="1847.5" y="992.6">6 Jan 10:59</text>
</g>
<rect x="1866" y="404.1" width="42.9" height="11.5" fill="#26a69a"/><text x="1868.3" y="413.9" font-family="Liberation Sans, sans-serif" font-size="10" fill="#d8fff6">1.48817</text>
<!-- black level line -->
<line x1="898" y1="743.7" x2="968.5" y2="743.7" stroke="#1a1a1a" stroke-width="1.3"/>
<!-- fake floor arrow -->
<path d="M607.3,753 L731.8,691.1 L760.1,682 L732.4,699.6 L610.4,759.5 Z" fill="url(#ga)" stroke="#0a0a14" stroke-width="0.9" stroke-linejoin="miter"/>
<path d="M716.1,695.4 L731.6,691.4 M722.2,709.5 L733.2,699.8" stroke="#0a0a14" stroke-width="1.1" fill="none"/>
<!-- CISD thin arrow -->
<path d="M928.2,660.2 L932.6,660.2 L931.1,715 L929.4,738.4 L927.9,715 Z" fill="#7ec0f5" stroke="#05070f" stroke-width="1.1" stroke-linejoin="miter"/>
<path d="M925.2,714.2 Q927.4,724 929.3,738.3 Q931.4,724 933.8,714.2" fill="none" stroke="#05070f" stroke-width="1.3"/>
<path d="M927.6,727 L929.35,738.4 L931.2,727 Z" fill="#05070f"/>
<!-- gray arrows -->
<g stroke="#858585" stroke-width="3.3" fill="none" stroke-linecap="butt" stroke-linejoin="miter">
<path d="M861.7,714.2 V725 M856.8,720.4 L861.7,725.6 L866.6,720.4"/>
<path d="M963.9,707.6 V697 M959,701.6 L963.9,696.4 L968.8,701.6"/>
</g>
<!-- green arrow -->
<path d="M1027.7,701.8 L1037.6,712.6 L1034.4,715.6 L1030.3,711.2 L1030.3,724.6 L1025.1,724.6 L1025.1,711.2 L1021,715.6 L1017.8,712.6 Z" fill="#0a7d0a"/>
 <!-- curved arrow -->
<path d="M1027.6,742.0 C1027.4,743.9 1026.9,748.9 1026.6,753.1 C1026.3,757.3 1025.7,762.1 1025.7,767.2 C1025.8,772.4 1026.0,778.4 1026.9,784.0 C1027.8,789.6 1029.2,795.5 1031.1,800.9 C1033.0,806.3 1035.1,811.4 1038.1,816.3 C1041.1,821.2 1045.1,826.2 1049.3,830.4 C1053.5,834.6 1058.2,838.3 1063.4,841.6 C1068.6,844.9 1074.0,847.9 1080.3,850.1 C1086.6,852.3 1094.3,853.9 1101.3,855.0 C1108.3,856.1 1114.2,856.7 1122.4,856.8 C1130.6,856.9 1140.9,856.5 1150.5,855.7 C1160.1,854.9 1175.1,852.8 1180.0,852.2" fill="none" stroke="url(#gb)" stroke-width="5" stroke-linecap="round"/>
<path d="M1029.7,734.8 L1033.4,743.6 L1023.8,743 Z" fill="#6d3df5" stroke="#6d3df5" stroke-width="1.4" stroke-linejoin="round"/>

</svg>
<div class="abs" style="left:51px;top:61px;font-size:9.25px;line-height:12px;color:#111;white-space:nowrap" id="ttl">EURCAD, M1:&nbsp; Euro vs Canadian Dollar</div>
<div class="ann" id="a1" style="left:352px;top:739.1px;font-size:33.7px;word-spacing:-2px;transform:scaleX(0.8985)">Fake floor failure</div>
<div class="ann" id="a2" style="left:827.2px;top:613px;font-size:32.5px;word-spacing:-2px;transform:scaleX(0.909)">Failure of CISD</div>
<div class="ann" id="a3" style="left:1191.3px;top:825.6px;font-size:32px;word-spacing:-2px;transform:scaleX(0.922)">Return to FVG area Buy entry range</div>
<!-- logo pill -->
<div class="abs" style="left:1327px;top:22px;width:259px;height:45.6px;background:#f0f0f0;border-radius:0 0 16px 16px / 0 0 15px 15px"></div>
<svg class="abs" style="left:1350px;top:0" width="60" height="62" viewBox="1350 0 60 62"><g fill="none" stroke="#22e2ee" stroke-width="2.7" stroke-linejoin="miter"><path d="M1364.9,12.4H1372.7V26.4L1369,29.9H1364.9Z"/><path d="M1391.4,23.3H1380.5L1364.9,38.3V44.8L1371.8,52H1391.4V43.6H1372.7V34.5L1377.4,29.9H1391.4Z"/></g></svg>
<div class="abs" id="tfl" style="left:1401.5px;top:24.6px;font-size:18.8px;line-height:24px;color:#7b7b7b;letter-spacing:0.3px;white-space:nowrap;transform:scaleX(1.222);transform-origin:0 0">Trading Finder</div>
<svg class="abs" style="left:0;top:56px" width="60" height="22" viewBox="0 56 60 22">
<rect x="9.4" y="61.6" width="6.6" height="10" rx="1" fill="#f7b3ac" stroke="#e2665c" stroke-width="1"/><path d="M9.6,64.4H16M9.6,67.2H16M9.6,69.6H16" stroke="#e2665c" stroke-width="0.9"/>
<rect x="17" y="61.6" width="6.6" height="10" rx="1" fill="#a6d3ee" stroke="#3f8fc6" stroke-width="1"/><path d="M17,64.4H23.4M17,67.2H23.4M17,69.6H23.4" stroke="#3f8fc6" stroke-width="0.9"/>
<path d="M31.4,62.2H33.6V66.2H37.2V71.4H31.4Z" fill="#fbd5cf" stroke="#e2665c" stroke-width="1.1" stroke-linejoin="round"/>
<path d="M39.6,71.4V66.4H42.6V61.6H45.2V71.4Z" fill="#bfe0f5" stroke="#3f8fc6" stroke-width="1.1" stroke-linejoin="round"/>
<circle cx="38.2" cy="62.6" r="1.6" fill="#c9c9c9" opacity="0.7"/>
</svg>

</div></body></html>
